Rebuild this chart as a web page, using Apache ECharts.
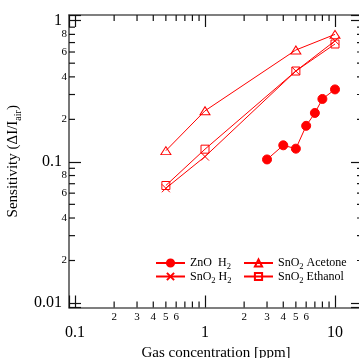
<!DOCTYPE html>
<html><head><meta charset="utf-8">
<script src="https://cdn.jsdelivr.net/npm/echarts@6/dist/echarts.min.js"></script>
<style>html,body{margin:0;padding:0;background:#fff}#c{width:359px;height:358px}</style>
</head><body><div id="c"></div><script>
// ---- data ----
const znoX = [3, 4, 5, 6, 7, 8, 10];
const znoY = [0.104, 0.131, 0.124, 0.18, 0.222, 0.279, 0.326];
const snX = [0.5, 1, 5, 10];
const acetoneY = [0.12, 0.23, 0.62, 0.80];
const ethanolY = [0.068, 0.123, 0.44, 0.684];
const h2Y = [0.065, 0.109, 0.44, 0.72];
const xMinorTicks = [0.2,0.3,0.4,0.5,0.6,0.7,0.8,0.9,2,3,4,5,6,7,8,9];
const xMinorLabels = [0.2,0.3,0.4,0.5,0.6,2,3,4,5,6];
const yMinorTicks = [0.02,0.03,0.04,0.05,0.06,0.07,0.08,0.09,0.2,0.3,0.4,0.5,0.6,0.7,0.8,0.9];
const yMinorLabels = [0.02,0.04,0.06,0.08,0.2,0.4,0.6,0.8];
const X_MIN = 0.08991, X_MAX = 16.42, Y_MIN = 0.009292, Y_MAX = 1.0975;

const SERIF = '"Liberation Serif", "DejaVu Serif", serif';
const RED = '#ff0000';
const AX = '#555', TICK = '#111';
const MINOR = 6;

function lead(v){ const p = Math.pow(10, Math.floor(Math.log10(v) + 1e-9)); return String(Math.round(v / p)); }
function isLabel(arr, v){ return arr.some(a => Math.abs(a - v) < 1e-9) ? 1 : 0; }
function majorFmt(v){ const l = Math.log10(v); if (Math.abs(l - Math.round(l)) > 1e-6) return ''; return String(+Math.pow(10, Math.round(l)).toPrecision(3)); }

const richLegend = {
  n: {fontFamily: SERIF, fontSize: 12, color: '#000', lineHeight: 17},
  s: {fontFamily: SERIF, fontSize: 8.5, color: '#000', lineHeight: 17, verticalAlign: 'bottom'}
};
const legendText = {
  'ZnO H2': '{n|ZnO  H}{s|2}',
  'SnO2 H2': '{n|SnO}{s|2}{n| H}{s|2}',
  'SnO2 Acetone': '{n|SnO}{s|2}{n| Acetone}',
  'SnO2 Ethanol': '{n|SnO}{s|2}{n| Ethanol}'
};
function legendCfg(left, names){
  return {
    data: names, orient: 'vertical', left: left, top: 257, itemWidth: 29, itemHeight: 9,
    itemGap: -1, padding: 0, selectedMode: false,
    formatter: n => legendText[n],
    textStyle: {fontFamily: SERIF, fontSize: 12, color: '#000', rich: richLegend}
  };
}

function lineSeries(name, xs, ys, symbol, size, fill){
  return {
    type: 'line', name: name, data: xs.map((x, i) => [x, ys[i]]),
    symbol: symbol, symbolSize: size, showAllSymbol: true,
    lineStyle: {color: RED, width: 1},
    itemStyle: {color: fill, borderColor: RED, borderWidth: 1},
    emphasis: {disabled: true}, silent: true, animation: false, z: 3
  };
}

const xTickData = xMinorTicks.map(v => [v, 0.5, isLabel(xMinorLabels, v)]);
const yTickData = yMinorTicks.map(v => [1, v, isLabel(yMinorLabels, v)]);
const lineSt = {stroke: TICK, lineWidth: 1.2};

const chart = echarts.init(document.getElementById('c'), null, {renderer: 'canvas'});
chart.setOption({
  animation: false,
  backgroundColor: '#fff',
  grid: {left: 69, top: 15, width: 294, height: 292.5, outerBoundsMode: 'none', containLabel: false},
  legend: [legendCfg(155, ['ZnO H2', 'SnO2 H2']), legendCfg(243, ['SnO2 Acetone', 'SnO2 Ethanol'])],
  xAxis: [{
    type: 'log', min: X_MIN, max: X_MAX, position: 'bottom',
    name: 'Gas concentration [ppm]', nameLocation: 'middle', nameGap: 38,
    nameTextStyle: {fontFamily: SERIF, fontSize: 15, color: '#000'},
    axisLine: {show: true, lineStyle: {color: AX, width: 1.6}},
    axisTick: {show: true, inside: true, length: 12, lineStyle: {color: TICK, width: 1.2}},
    axisLabel: {show: true, margin: 17, formatter: majorFmt, fontFamily: SERIF, fontSize: 16, color: '#000', showMinLabel: true, showMaxLabel: true},
    splitLine: {show: false}, minorTick: {show: false}
  }, {
    type: 'log', min: X_MIN, max: X_MAX, position: 'top',
    axisLine: {show: true, lineStyle: {color: AX, width: 1.6}},
    axisTick: {show: true, inside: true, length: 12, lineStyle: {color: TICK, width: 1.2}},
    axisLabel: {show: false}, splitLine: {show: false}
  }],
  yAxis: [{
    type: 'log', min: Y_MIN, max: Y_MAX, position: 'left',
    name: '{a|Sensitivity (ΔI/I}{s|air}{a|)}', nameLocation: 'middle', nameGap: 34,
    nameTextStyle: {fontFamily: SERIF, fontSize: 15, color: '#000', rich: {
      a: {fontFamily: SERIF, fontSize: 15, color: '#000', lineHeight: 20},
      s: {fontFamily: SERIF, fontSize: 10, color: '#000', lineHeight: 20, verticalAlign: 'bottom'}
    }},
    axisLine: {show: true, lineStyle: {color: AX, width: 1.6}},
    axisTick: {show: true, inside: true, length: 12, lineStyle: {color: TICK, width: 1.2}},
    axisLabel: {show: true, margin: 7, formatter: majorFmt, fontFamily: SERIF, fontSize: 16, color: '#000'},
    splitLine: {show: false}
  }, {
    type: 'log', min: Y_MIN, max: Y_MAX, position: 'right',
    axisLine: {show: true, lineStyle: {color: AX, width: 1.6}},
    axisTick: {show: true, inside: true, length: 12, lineStyle: {color: TICK, width: 1.2}},
    axisLabel: {show: false}, splitLine: {show: false}
  }],
  series: [
    lineSeries('ZnO H2', znoX, znoY, 'circle', 9, RED),
    lineSeries('SnO2 Acetone', snX, acetoneY, 'triangle', [10, 8], 'rgba(255,255,255,0)'),
    lineSeries('SnO2 H2', snX, h2Y, 'path://M0,0L10,10M10,0L0,10', 8, 'rgba(255,255,255,0)'),
    lineSeries('SnO2 Ethanol', snX, ethanolY, 'rect', 8, 'rgba(255,255,255,0)'),
    {
      type: 'custom', name: 'xminor', data: xTickData, clip: false, silent: true, z: 4,
      encode: {x: 0, y: 1},
      renderItem: function(params, api){
        const cs = params.coordSys;
        const v = api.value(0);
        const x = api.coord([v, 0.5])[0];
        const bottom = cs.y + cs.height, top = cs.y;
        const ch = [
          {type: 'line', shape: {x1: x, y1: bottom, x2: x, y2: bottom - MINOR}, style: lineSt},
          {type: 'line', shape: {x1: x, y1: top, x2: x, y2: top + MINOR}, style: lineSt}
        ];
        if (api.value(2)) ch.push({type: 'text', x: x, y: bottom + 4.5, style: {text: lead(v), fill: '#000', font: '11px ' + SERIF, align: 'center', verticalAlign: 'top'}});
        return {type: 'group', children: ch};
      }
    },
    {
      type: 'custom', name: 'yminor', data: yTickData, clip: false, silent: true, z: 4,
      encode: {x: 0, y: 1},
      renderItem: function(params, api){
        const cs = params.coordSys;
        const v = api.value(1);
        const y = api.coord([1, v])[1];
        const left = cs.x, right = cs.x + cs.width;
        const ch = [
          {type: 'line', shape: {x1: left, y1: y, x2: left + MINOR, y2: y}, style: lineSt},
          {type: 'line', shape: {x1: right, y1: y, x2: right - MINOR, y2: y}, style: lineSt}
        ];
        if (api.value(2)) ch.push({type: 'text', x: left - 2, y: y, style: {text: lead(v), fill: '#000', font: '11px ' + SERIF, align: 'right', verticalAlign: 'middle'}});
        return {type: 'group', children: ch};
      }
    }
  ]
});
</script></body></html>
